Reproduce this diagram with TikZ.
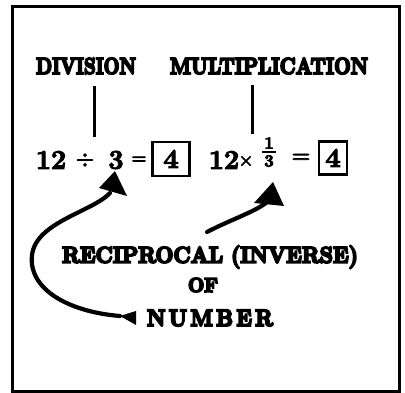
\documentclass[tikz,border=0pt]{standalone}
\usepackage{fontspec}
\usepackage{graphicx}
\usetikzlibrary{arrows.meta}
\newcommand{\hv}[2][1.1]{\special{pdf:literal direct 2 Tr #1 w}#2\special{pdf:literal direct 0 Tr}}
\newcommand{\fitbox}[3]{\resizebox{#1pt}{#2pt}{\bfseries\hv[0.9]{#3}}}
\tikzset{
  lab/.style={inner sep=0pt, outer sep=0pt},
  digit/.style={inner sep=0pt, outer sep=0pt, font=\fontsize{27}{27}\selectfont\bfseries},
  opsym/.style={inner sep=0pt, outer sep=0pt, font=\fontsize{21}{21}\selectfont\bfseries},
  small/.style={inner sep=0pt, outer sep=0pt, font=\fontsize{17}{17}\selectfont\bfseries},
  numbox/.style={draw, line width=2.7pt, inner sep=0pt, font=\fontsize{27}{27}\selectfont\bfseries},
  stem/.style={line width=3pt},
  bigarrow/.style={line width=4.2pt, line cap=round},
}
\begin{document}
\begin{tikzpicture}[x=1pt,y=-1pt]
\useasboundingbox (0,0) rectangle (405,393);
\fill[white] (0,0) rectangle (405,393);
% frame
\draw[line width=3pt] (12,7) rectangle (399,391);
% connector stems (drawn first)
\coordinate (l1t) at (94,86);
\coordinate (l1b) at (94,137);
\coordinate (l2t) at (252,85);
\coordinate (l2b) at (252,134);
\draw[stem] (l1t) -- (l1b);
\draw[stem] (l2t) -- (l2b);
% top labels
\node[lab] (dv) at (86,66) {\fitbox{100}{16}{DIVISION}};
\node[lab] (ml) at (269,66) {\fitbox{198}{16}{MULTIPLICATION}};
% equation 1
\node[digit] (a12) at (51,160) {\hv{12}};
\node[opsym] (adiv) at (85,160) {\hv[0.8]{÷}};
\node[digit] (a3) at (116,160) {\hv{3}};
\node[small] (aeq) at (139,160) {\hv[0.8]{=}};
\node[numbox, minimum width=37pt, minimum height=34pt] (b1) at (171,159) {\hv{4}};
% equation 2
\node[digit] (c12) at (224,160) {\hv{12}};
\node[small] (cx) at (246,161) {\hv[0.7]{×}};
\node[small] (fn) at (269,143) {\hv[0.8]{1}};
\node[small] (fd) at (269,161) {\hv[0.8]{3}};
\coordinate (fl) at (262,152);
\coordinate (fr) at (276,152);
\draw[line width=1.8pt] (fl) -- (fr);
\node[opsym] (ceq) at (301,158) {\hv[0.8]{=}};
\node[numbox, minimum width=28pt, minimum height=33pt] (b2) at (333,158) {\hv{4}};
% lower labels
\node[lab] (rc) at (210,257) {\fitbox{296}{17}{RECIPROCAL (INVERSE)}};
\node[lab] (of) at (203,285) {\fitbox{30}{14}{OF}};
\node[lab] (nb) at (210,318) {\fitbox{126}{16}{N\,U\,M\,B\,E\,R}};
% arrow 1 (double ended, from NUMBER round to the 3)
\coordinate (e1) at (120,316);
\coordinate (e1a) at (136,311);
\coordinate (e1b) at (136,325);
\coordinate (h1b) at (110,193);
\coordinate (t1) at (115,171);
\coordinate (t1l) at (99,188);
\coordinate (t1r) at (127,196);
\draw[bigarrow] (e1) .. controls (70,312) and (28,290) .. (32,255)
       .. controls (36,222) and (92,212) .. (h1b);
\fill (e1) -- (e1a) -- (e1b) -- cycle;
\fill (t1) -- (t1l) -- (t1r) -- cycle;
% arrow 2
\coordinate (s2) at (207,232);
\coordinate (h2b) at (266,203);
\coordinate (t2) at (273,182);
\coordinate (t2l) at (254,203);
\coordinate (t2r) at (284,206);
\draw[bigarrow] (s2) .. controls (230,220) and (252,213) .. (h2b);
\fill (t2) -- (t2l) -- (t2r) -- cycle;
\end{tikzpicture}
\end{document}
